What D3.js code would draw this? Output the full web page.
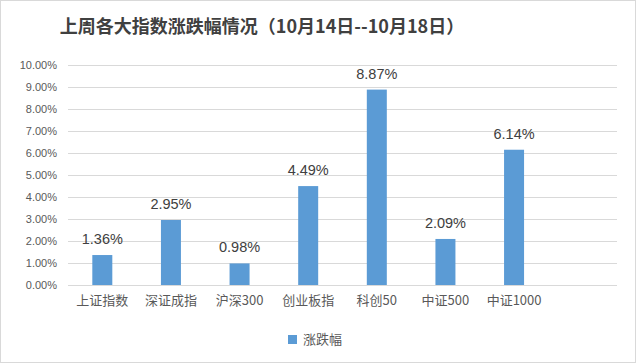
<!DOCTYPE html>
<html lang="zh">
<head>
<meta charset="UTF-8">
<title>上周各大指数涨跌幅情况</title>
<script src="https://d3js.org/d3.v7.min.js"></script>
<style>
    body{ margin:0; background:#fff; }
    text{ font-family: "Noto Sans CJK SC", "Noto Sans", sans-serif; }
</style>
</head>
<body>
<svg width="636" height="364"></svg>
<script>
    // data
    const categories = ['上证指数', '深证成指', '沪深300', '创业板指', '科创50', '中证500', '中证1000', ''];
    const changes = [1.36, 2.95, 0.98, 4.49, 8.87, 2.09, 6.14, null];
    const yTicks = [0, 1, 2, 3, 4, 5, 6, 7, 8, 9, 10];
    const title = '上周各大指数涨跌幅情况（10月14日--10月18日）';
    const seriesName = '涨跌幅';

    const svg = d3.select('svg');
    const plot = {left: 68, right: 617, top: 64.7, bottom: 285};

    // outer frame
    svg.append('rect').attr('x', 0.5).attr('y', 0.5).attr('width', 635).attr('height', 362)
        .attr('fill', '#fff').attr('stroke', '#d9d9d9');

    svg.append('text').attr('x', 262).attr('y', 33).attr('text-anchor', 'middle')
        .attr('font-size', 18).attr('font-weight', 'bold').attr('fill', '#404040')
        .text(title);

    const x = d3.scaleBand().domain(categories).range([plot.left, plot.right]).paddingInner(0).paddingOuter(0);
    const y = d3.scaleLinear().domain([0, 10]).range([plot.bottom, plot.top]);
    const barW = 20;

    // gridlines
    svg.append('g').selectAll('line').data(yTicks.slice(1)).join('line')
        .attr('x1', plot.left).attr('x2', plot.right)
        .attr('y1', d => Math.round(y(d)) + 0.5).attr('y2', d => Math.round(y(d)) + 0.5)
        .attr('stroke', '#d9d9d9');

    // y axis labels
    const yAxis = svg.append('g').attr('transform', `translate(${plot.left},0)`)
        .call(d3.axisLeft(y).tickValues(yTicks).tickFormat(d => d.toFixed(2) + '%').tickSize(0).tickPadding(11));
    yAxis.select('.domain').remove();
    yAxis.selectAll('text').attr('font-size', 11).attr('fill', '#595959')
        .style('font-family', '"Liberation Sans", "Noto Sans", sans-serif');

    // bars
    const rows = categories.map((c, i) => ({c, v: changes[i]})).filter(d => d.v !== null);
    svg.append('g').selectAll('rect').data(rows).join('rect')
        .attr('x', d => x(d.c) + x.bandwidth() / 2 - barW / 2)
        .attr('width', barW)
        .attr('y', d => y(d.v))
        .attr('height', d => y(0) - y(d.v))
        .attr('fill', '#5b9bd5');

    // value labels
    svg.append('g').selectAll('text').data(rows).join('text')
        .attr('x', d => x(d.c) + x.bandwidth() / 2)
        .attr('y', d => y(d.v) - 11)
        .attr('text-anchor', 'middle').attr('font-size', 14.5).attr('fill', '#404040')
        .style('font-family', '"Liberation Sans", "Noto Sans", sans-serif')
        .text(d => d.v.toFixed(2) + '%');

    // x axis
    const xAxis = svg.append('g').attr('transform', `translate(0,${plot.bottom})`)
        .call(d3.axisBottom(x).tickSize(0).tickPadding(11));
    xAxis.select('.domain').attr('stroke', '#d9d9d9').attr('d', `M${plot.left},0.5H${plot.right}`);
    xAxis.selectAll('text').attr('font-size', 13).attr('fill', '#595959');

    // legend
    const lg = svg.append('g').attr('transform', 'translate(288,335)');
    lg.append('rect').attr('width', 9).attr('height', 9).attr('fill', '#5b9bd5');
    lg.append('text').attr('x', 15).attr('y', 9).attr('font-size', 13).attr('fill', '#595959').text(seriesName);
</script>
</body>
</html>
